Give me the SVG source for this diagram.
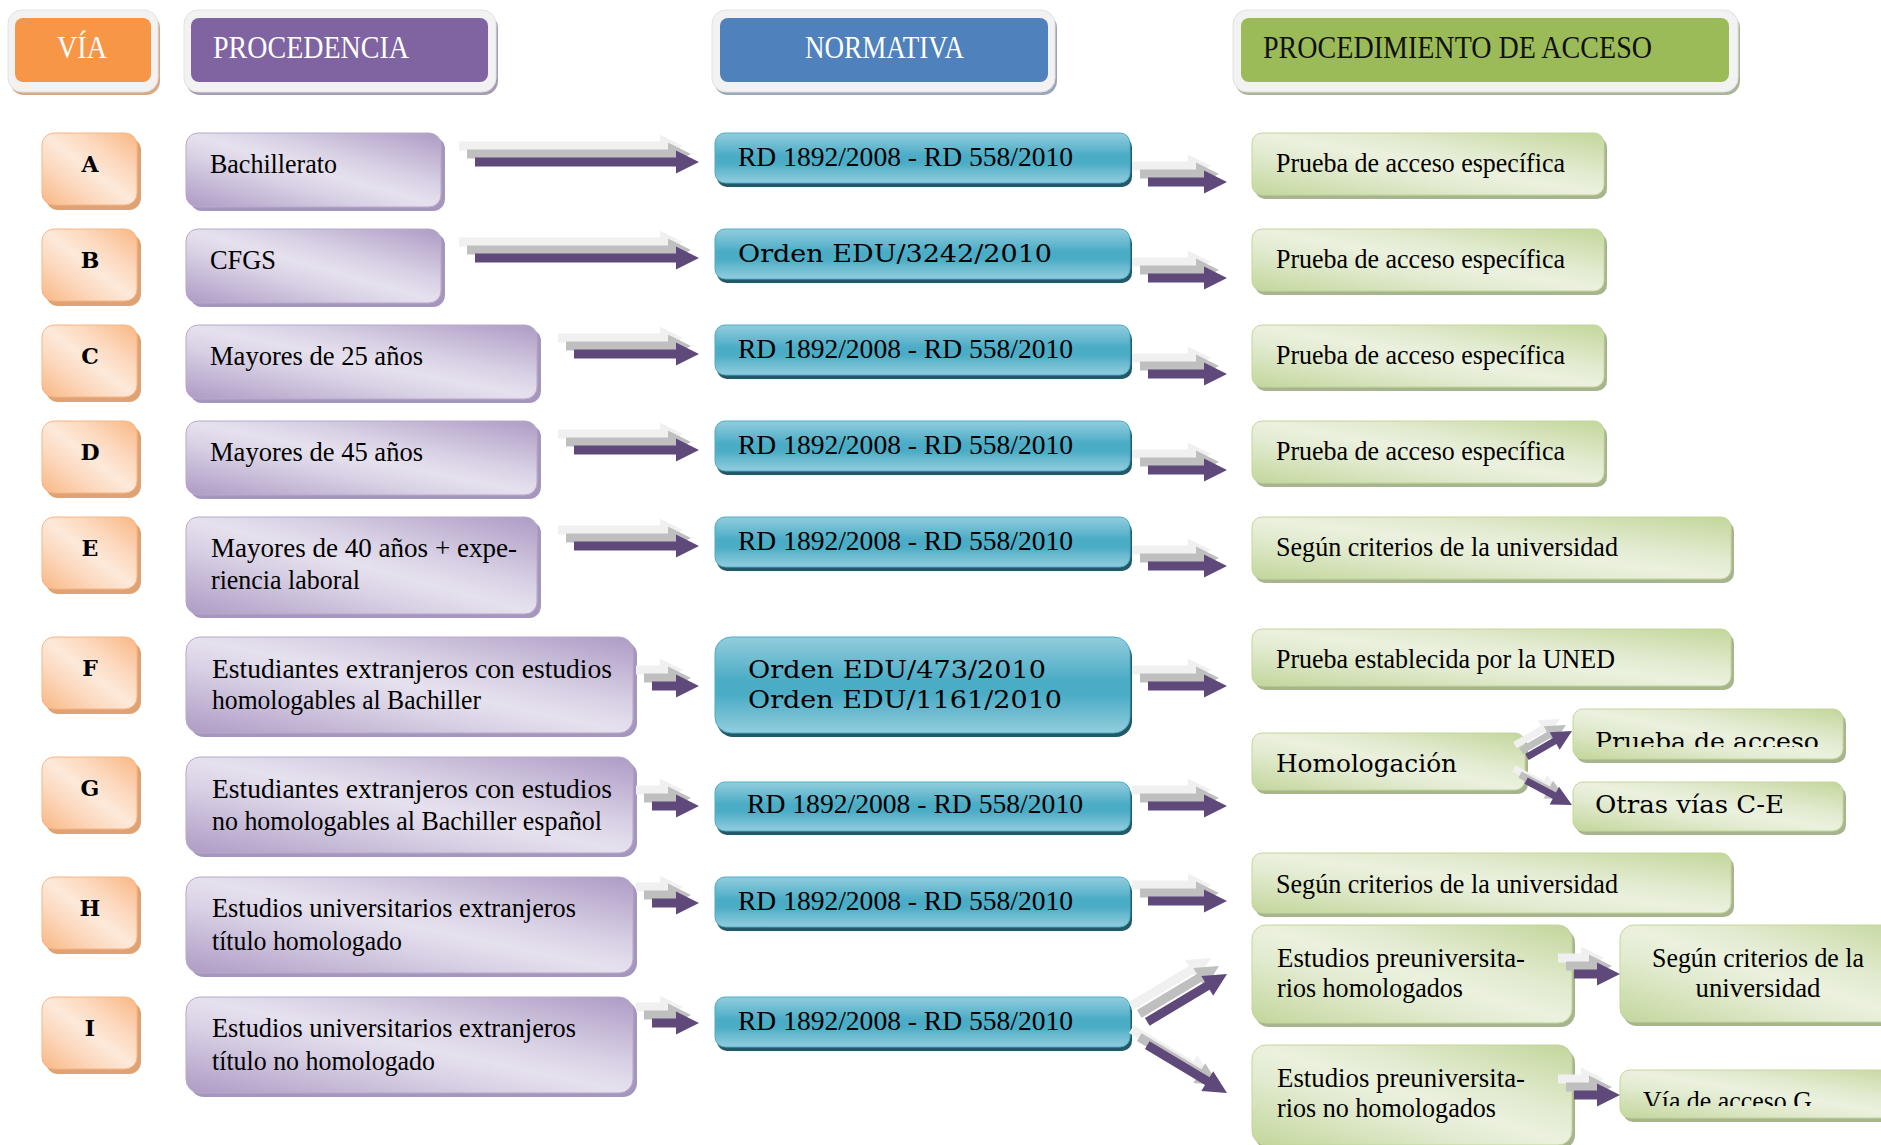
<svg xmlns="http://www.w3.org/2000/svg" width="1881" height="1145" viewBox="0 0 1881 1145">
<style>
.t{font-family:"Liberation Serif",serif;font-size:27px;fill:#000}
.c{font-family:"DejaVu Serif",serif;font-size:25px;fill:#000}
.h{font-family:"Liberation Serif",serif;font-size:31px}
.v{font-family:"DejaVu Serif",serif;font-weight:bold;font-size:22px;text-anchor:middle;fill:#000}
.frm{fill:#f2f2f2;stroke:#e2e2e2;stroke-width:1}
.viaS{fill:#dea274}.via{fill:url(#gVia);stroke:#f6b686;stroke-width:1}
.proS{fill:#a596bd}.pro{fill:url(#gPur);stroke:#b8a9cb;stroke-width:1}
.norS{fill:#215968}.nor{fill:url(#gBlu);stroke:#4bacc6;stroke-width:1}
.accS{fill:#a7b58e}.acc{fill:url(#gGrn);stroke:#c3d69b;stroke-width:1}
</style>
<defs>
<linearGradient id="gVia" x1="0" y1="1" x2="1" y2="0">
<stop offset="0" stop-color="#f9b784"/><stop offset="0.3" stop-color="#fcd8bd"/><stop offset="0.5" stop-color="#fde9da"/><stop offset="0.7" stop-color="#fcd8bd"/><stop offset="1" stop-color="#f9b784"/>
</linearGradient>
<linearGradient id="gPur" x1="0" y1="1" x2="1" y2="0">
<stop offset="0" stop-color="#ad9bc5"/><stop offset="0.35" stop-color="#d8d0e4"/><stop offset="0.5" stop-color="#e6e1ee"/><stop offset="0.65" stop-color="#d8d0e4"/><stop offset="1" stop-color="#ad9bc5"/>
</linearGradient>
<linearGradient id="gGrn" x1="0" y1="1" x2="1" y2="0">
<stop offset="0" stop-color="#c3d69b"/><stop offset="0.35" stop-color="#e2ebd0"/><stop offset="0.5" stop-color="#ebf1de"/><stop offset="0.65" stop-color="#e2ebd0"/><stop offset="1" stop-color="#c3d69b"/>
</linearGradient>
<linearGradient id="gBlu" x1="0" y1="0" x2="0" y2="1">
<stop offset="0" stop-color="#93cddd"/><stop offset="0.45" stop-color="#4bacc6"/><stop offset="0.6" stop-color="#4bacc6"/><stop offset="1" stop-color="#93cddd"/>
</linearGradient>
<clipPath id="clipPrueba"><rect x="1573" y="700" width="280" height="47"/></clipPath>
<clipPath id="clipViaG"><rect x="1620" y="1060" width="270" height="46"/></clipPath>
<polygon id="p224" points="-224,-4.5 -23,-4.5 -23,-11.5 0,0 -23,11.5 -23,4.5 -224,4.5"/>
<polygon id="p125" points="-125,-4.5 -23,-4.5 -23,-11.5 0,0 -23,11.5 -23,4.5 -125,4.5"/>
<polygon id="p79" points="-79,-4.5 -23,-4.5 -23,-11.5 0,0 -23,11.5 -23,4.5 -79,4.5"/>
<polygon id="p47" points="-47,-4.5 -23,-4.5 -23,-11.5 0,0 -23,11.5 -23,4.5 -47,4.5"/>
<polygon id="p46" points="-46,-4.5 -23,-4.5 -23,-11.5 0,0 -23,11.5 -23,4.5 -46,4.5"/>
<polygon id="p93" points="-93,-4.5 -23,-4.5 -23,-11.5 0,0 -23,11.5 -23,4.5 -93,4.5"/>
<polygon id="p52" points="-52,-3.5 -20,-3.5 -20,-10 0,0 -20,10 -20,3.5 -52,3.5"/>
<g id="a224"><use href="#p224" x="-16" y="-16" fill="#f0f0f0"/><use href="#p224" x="-8" y="-8" fill="#bfbfbf"/><use href="#p224" fill="#5f497a"/></g>
<g id="a125"><use href="#p125" x="-16" y="-16" fill="#f0f0f0"/><use href="#p125" x="-8" y="-8" fill="#bfbfbf"/><use href="#p125" fill="#5f497a"/></g>
<g id="a79"><use href="#p79" x="-16" y="-16" fill="#f0f0f0"/><use href="#p79" x="-8" y="-8" fill="#bfbfbf"/><use href="#p79" fill="#5f497a"/></g>
<g id="a47"><use href="#p47" x="-16" y="-16" fill="#f0f0f0"/><use href="#p47" x="-8" y="-8" fill="#bfbfbf"/><use href="#p47" fill="#5f497a"/></g>
<g id="a46"><use href="#p46" x="-16" y="-16" fill="#f0f0f0"/><use href="#p46" x="-8" y="-8" fill="#bfbfbf"/><use href="#p46" fill="#5f497a"/></g>
</defs>
<rect width="1881" height="1145" fill="#ffffff"/>

<!-- headers -->
<g id="hdr-via">
<rect x="10" y="14" width="150" height="81" rx="14" fill="#d9a884"/>
<rect class="frm" x="8" y="10" width="150" height="82" rx="14"/>
<rect x="15" y="18" width="136" height="64" rx="8" fill="#f79646"/>
<text class="h" x="57" y="58" fill="#ffffff" textLength="50" lengthAdjust="spacingAndGlyphs">VÍA</text>
</g>
<g id="hdr-procedencia">
<rect x="186" y="14" width="312" height="81" rx="14" fill="#a59db3"/>
<rect class="frm" x="184" y="10" width="312" height="82" rx="14"/>
<rect x="191" y="18" width="297" height="64" rx="8" fill="#8064a2"/>
<text class="h" x="213" y="58" fill="#ffffff" textLength="196" lengthAdjust="spacingAndGlyphs">PROCEDENCIA</text>
</g>
<g id="hdr-normativa">
<rect x="714" y="14" width="343" height="81" rx="14" fill="#9aa6bb"/>
<rect class="frm" x="712" y="10" width="343" height="82" rx="14"/>
<rect x="720" y="18" width="328" height="64" rx="8" fill="#4f81bd"/>
<text class="h" x="805" y="58" fill="#ffffff" textLength="159" lengthAdjust="spacingAndGlyphs">NORMATIVA</text>
</g>
<g id="hdr-acceso">
<rect x="1235" y="14" width="505" height="81" rx="14" fill="#aab596"/>
<rect class="frm" x="1233" y="10" width="505" height="82" rx="14"/>
<rect x="1241" y="18" width="488" height="64" rx="8" fill="#9bbb59"/>
<text class="h" x="1263" y="58" fill="#111111" textLength="389" lengthAdjust="spacingAndGlyphs">PROCEDIMIENTO DE ACCESO</text>
</g>

<!-- via boxes -->
<g id="via-A"><rect class="viaS" x="46" y="138" width="95" height="72" rx="12"/><rect class="via" x="42" y="133" width="95" height="72" rx="12"/><text class="v" x="90" y="172">A</text></g>
<g id="via-B"><rect class="viaS" x="46" y="234" width="95" height="72" rx="12"/><rect class="via" x="42" y="229" width="95" height="72" rx="12"/><text class="v" x="90" y="268">B</text></g>
<g id="via-C"><rect class="viaS" x="46" y="330" width="95" height="72" rx="12"/><rect class="via" x="42" y="325" width="95" height="72" rx="12"/><text class="v" x="90" y="364">C</text></g>
<g id="via-D"><rect class="viaS" x="46" y="426" width="95" height="72" rx="12"/><rect class="via" x="42" y="421" width="95" height="72" rx="12"/><text class="v" x="90" y="460">D</text></g>
<g id="via-E"><rect class="viaS" x="46" y="522" width="95" height="72" rx="12"/><rect class="via" x="42" y="517" width="95" height="72" rx="12"/><text class="v" x="90" y="556">E</text></g>
<g id="via-F"><rect class="viaS" x="46" y="642" width="95" height="72" rx="12"/><rect class="via" x="42" y="637" width="95" height="72" rx="12"/><text class="v" x="90" y="676">F</text></g>
<g id="via-G"><rect class="viaS" x="46" y="762" width="95" height="72" rx="12"/><rect class="via" x="42" y="757" width="95" height="72" rx="12"/><text class="v" x="90" y="796">G</text></g>
<g id="via-H"><rect class="viaS" x="46" y="882" width="95" height="72" rx="12"/><rect class="via" x="42" y="877" width="95" height="72" rx="12"/><text class="v" x="90" y="916">H</text></g>
<g id="via-I"><rect class="viaS" x="46" y="1002" width="95" height="72" rx="12"/><rect class="via" x="42" y="997" width="95" height="72" rx="12"/><text class="v" x="90" y="1036">I</text></g>

<!-- procedencia -->
<g id="proc-A"><rect class="proS" x="190" y="137" width="255" height="74" rx="12"/><rect class="pro" x="186" y="133" width="255" height="74" rx="12"/><text class="t" x="210" y="173" textLength="127" lengthAdjust="spacingAndGlyphs">Bachillerato</text></g>
<g id="proc-B"><rect class="proS" x="190" y="233" width="255" height="74" rx="12"/><rect class="pro" x="186" y="229" width="255" height="74" rx="12"/><text class="t" x="210" y="269" textLength="66" lengthAdjust="spacingAndGlyphs">CFGS</text></g>
<g id="proc-C"><rect class="proS" x="190" y="329" width="351" height="74" rx="12"/><rect class="pro" x="186" y="325" width="351" height="74" rx="12"/><text class="t" x="210" y="365" textLength="213" lengthAdjust="spacingAndGlyphs">Mayores de 25 años</text></g>
<g id="proc-D"><rect class="proS" x="190" y="425" width="351" height="74" rx="12"/><rect class="pro" x="186" y="421" width="351" height="74" rx="12"/><text class="t" x="210" y="461" textLength="213" lengthAdjust="spacingAndGlyphs">Mayores de 45 años</text></g>
<g id="proc-E"><rect class="proS" x="190" y="521" width="351" height="97" rx="12"/><rect class="pro" x="186" y="517" width="351" height="97" rx="12"/><text class="t" x="211" y="557" textLength="306" lengthAdjust="spacingAndGlyphs">Mayores de 40 años + expe-</text><text class="t" x="211" y="589" textLength="149" lengthAdjust="spacingAndGlyphs">riencia laboral</text></g>
<g id="proc-F"><rect class="proS" x="190" y="641" width="447" height="96" rx="14"/><rect class="pro" x="186" y="637" width="447" height="96" rx="14"/><text class="t" x="212" y="678" textLength="400" lengthAdjust="spacingAndGlyphs">Estudiantes extranjeros con estudios</text><text class="t" x="212" y="709" textLength="269" lengthAdjust="spacingAndGlyphs">homologables al Bachiller</text></g>
<g id="proc-G"><rect class="proS" x="190" y="761" width="447" height="96" rx="14"/><rect class="pro" x="186" y="757" width="447" height="96" rx="14"/><text class="t" x="212" y="798" textLength="400" lengthAdjust="spacingAndGlyphs">Estudiantes extranjeros con estudios</text><text class="t" x="212" y="830" textLength="390" lengthAdjust="spacingAndGlyphs">no homologables al Bachiller español</text></g>
<g id="proc-H"><rect class="proS" x="190" y="881" width="447" height="96" rx="14"/><rect class="pro" x="186" y="877" width="447" height="96" rx="14"/><text class="t" x="212" y="917" textLength="364" lengthAdjust="spacingAndGlyphs">Estudios universitarios extranjeros</text><text class="t" x="212" y="950" textLength="190" lengthAdjust="spacingAndGlyphs">título homologado</text></g>
<g id="proc-I"><rect class="proS" x="190" y="1001" width="447" height="96" rx="14"/><rect class="pro" x="186" y="997" width="447" height="96" rx="14"/><text class="t" x="212" y="1037" textLength="364" lengthAdjust="spacingAndGlyphs">Estudios universitarios extranjeros</text><text class="t" x="212" y="1070" textLength="223" lengthAdjust="spacingAndGlyphs">título no homologado</text></g>

<!-- normativa -->
<g id="norm-A"><rect class="norS" x="717" y="137" width="415" height="50" rx="10"/><rect class="nor" x="715" y="133" width="415" height="50" rx="10"/><text class="t" x="738" y="166" textLength="335" lengthAdjust="spacingAndGlyphs">RD 1892/2008 - RD 558/2010</text></g>
<g id="norm-B"><rect class="norS" x="717" y="233" width="415" height="50" rx="10"/><rect class="nor" x="715" y="229" width="415" height="50" rx="10"/><text class="c" x="738" y="262" textLength="314" lengthAdjust="spacingAndGlyphs">Orden EDU/3242/2010</text></g>
<g id="norm-C"><rect class="norS" x="717" y="329" width="415" height="50" rx="10"/><rect class="nor" x="715" y="325" width="415" height="50" rx="10"/><text class="t" x="738" y="358" textLength="335" lengthAdjust="spacingAndGlyphs">RD 1892/2008 - RD 558/2010</text></g>
<g id="norm-D"><rect class="norS" x="717" y="425" width="415" height="50" rx="10"/><rect class="nor" x="715" y="421" width="415" height="50" rx="10"/><text class="t" x="738" y="454" textLength="335" lengthAdjust="spacingAndGlyphs">RD 1892/2008 - RD 558/2010</text></g>
<g id="norm-E"><rect class="norS" x="717" y="521" width="415" height="50" rx="10"/><rect class="nor" x="715" y="517" width="415" height="50" rx="10"/><text class="t" x="738" y="550" textLength="335" lengthAdjust="spacingAndGlyphs">RD 1892/2008 - RD 558/2010</text></g>
<g id="norm-F"><rect class="norS" x="717" y="641" width="415" height="96" rx="16"/><rect class="nor" x="715" y="637" width="415" height="96" rx="16"/><text class="c" x="748" y="678" textLength="298" lengthAdjust="spacingAndGlyphs">Orden EDU/473/2010</text><text class="c" x="748" y="708" textLength="314" lengthAdjust="spacingAndGlyphs">Orden EDU/1161/2010</text></g>
<g id="norm-G"><rect class="norS" x="717" y="786" width="415" height="49" rx="10"/><rect class="nor" x="715" y="782" width="415" height="49" rx="10"/><text class="t" x="747" y="813" textLength="336" lengthAdjust="spacingAndGlyphs">RD 1892/2008 - RD 558/2010</text></g>
<g id="norm-H"><rect class="norS" x="717" y="881" width="415" height="50" rx="10"/><rect class="nor" x="715" y="877" width="415" height="50" rx="10"/><text class="t" x="738" y="910" textLength="335" lengthAdjust="spacingAndGlyphs">RD 1892/2008 - RD 558/2010</text></g>
<g id="norm-I"><rect class="norS" x="717" y="1001" width="415" height="50" rx="10"/><rect class="nor" x="715" y="997" width="415" height="50" rx="10"/><text class="t" x="738" y="1030" textLength="335" lengthAdjust="spacingAndGlyphs">RD 1892/2008 - RD 558/2010</text></g>

<!-- procedimiento de acceso -->
<g id="acc-A"><rect class="accS" x="1255" y="137" width="352" height="62" rx="10"/><rect class="acc" x="1252" y="133" width="352" height="62" rx="10"/><text class="t" x="1276" y="172" textLength="289" lengthAdjust="spacingAndGlyphs">Prueba de acceso específica</text></g>
<g id="acc-B"><rect class="accS" x="1255" y="233" width="352" height="62" rx="10"/><rect class="acc" x="1252" y="229" width="352" height="62" rx="10"/><text class="t" x="1276" y="268" textLength="289" lengthAdjust="spacingAndGlyphs">Prueba de acceso específica</text></g>
<g id="acc-C"><rect class="accS" x="1255" y="329" width="352" height="62" rx="10"/><rect class="acc" x="1252" y="325" width="352" height="62" rx="10"/><text class="t" x="1276" y="364" textLength="289" lengthAdjust="spacingAndGlyphs">Prueba de acceso específica</text></g>
<g id="acc-D"><rect class="accS" x="1255" y="425" width="352" height="62" rx="10"/><rect class="acc" x="1252" y="421" width="352" height="62" rx="10"/><text class="t" x="1276" y="460" textLength="289" lengthAdjust="spacingAndGlyphs">Prueba de acceso específica</text></g>
<g id="acc-E"><rect class="accS" x="1255" y="521" width="479" height="62" rx="10"/><rect class="acc" x="1252" y="517" width="479" height="62" rx="10"/><text class="t" x="1276" y="556" textLength="342" lengthAdjust="spacingAndGlyphs">Según criterios de la universidad</text></g>
<g id="acc-F"><rect class="accS" x="1255" y="633" width="479" height="57" rx="10"/><rect class="acc" x="1252" y="629" width="479" height="57" rx="10"/><text class="t" x="1276" y="668" textLength="339" lengthAdjust="spacingAndGlyphs">Prueba establecida por la UNED</text></g>
<g id="acc-G-homologacion"><rect class="accS" x="1255" y="737" width="273" height="57" rx="10"/><rect class="acc" x="1252" y="733" width="273" height="57" rx="10"/><text class="c" x="1276" y="772" textLength="181" lengthAdjust="spacingAndGlyphs">Homologación</text></g>
<g id="acc-G-prueba"><rect class="accS" x="1576" y="713" width="270" height="50" rx="10"/><rect class="acc" x="1573" y="709" width="270" height="50" rx="10"/><text class="c" x="1595" y="750" textLength="224" lengthAdjust="spacingAndGlyphs" clip-path="url(#clipPrueba)">Prueba de acceso</text></g>
<g id="acc-G-otras"><rect class="accS" x="1576" y="786" width="270" height="49" rx="10"/><rect class="acc" x="1573" y="782" width="270" height="49" rx="10"/><text class="c" x="1595" y="813" textLength="189" lengthAdjust="spacingAndGlyphs">Otras vías C-E</text></g>
<g id="acc-H"><rect class="accS" x="1255" y="857" width="479" height="60" rx="10"/><rect class="acc" x="1252" y="853" width="479" height="60" rx="10"/><text class="t" x="1276" y="893" textLength="342" lengthAdjust="spacingAndGlyphs">Según criterios de la universidad</text></g>
<g id="acc-I-homologados"><rect class="accS" x="1255" y="929" width="320" height="98" rx="14"/><rect class="acc" x="1252" y="925" width="320" height="98" rx="14"/><text class="t" x="1277" y="967" textLength="248" lengthAdjust="spacingAndGlyphs">Estudios preuniversita-</text><text class="t" x="1277" y="997" textLength="186" lengthAdjust="spacingAndGlyphs">rios homologados</text></g>
<g id="acc-I-criterios"><rect class="accS" x="1623" y="929" width="300" height="97" rx="14"/><rect class="acc" x="1620" y="925" width="300" height="97" rx="14"/><text class="t" x="1758" y="967" text-anchor="middle" textLength="212" lengthAdjust="spacingAndGlyphs">Según criterios de la</text><text class="t" x="1758" y="997" text-anchor="middle" textLength="125" lengthAdjust="spacingAndGlyphs">universidad</text></g>
<g id="acc-I-nohomologados"><rect class="accS" x="1255" y="1049" width="320" height="100" rx="14"/><rect class="acc" x="1252" y="1045" width="320" height="100" rx="14"/><text class="t" x="1277" y="1087" textLength="248" lengthAdjust="spacingAndGlyphs">Estudios preuniversita-</text><text class="t" x="1277" y="1117" textLength="219" lengthAdjust="spacingAndGlyphs">rios no homologados</text></g>
<g id="acc-I-viaG"><rect class="accS" x="1623" y="1074" width="300" height="48" rx="10"/><rect class="acc" x="1620" y="1070" width="300" height="48" rx="10"/><text class="t" x="1643" y="1110" textLength="169" lengthAdjust="spacingAndGlyphs" clip-path="url(#clipViaG)">Vía de acceso G</text></g>

<!-- connectors -->
<g id="connectors">
<use href="#a224" transform="translate(699,162)"/>
<use href="#a224" transform="translate(699,258)"/>
<use href="#a125" transform="translate(699,354)"/>
<use href="#a125" transform="translate(699,450)"/>
<use href="#a125" transform="translate(699,546)"/>
<use href="#a47" transform="translate(699,686)"/>
<use href="#a47" transform="translate(699,806)"/>
<use href="#a47" transform="translate(699,903)"/>
<use href="#a47" transform="translate(699,1023)"/>
<use href="#a79" transform="translate(1227,182)"/>
<use href="#a79" transform="translate(1227,278)"/>
<use href="#a79" transform="translate(1227,374)"/>
<use href="#a79" transform="translate(1227,470)"/>
<use href="#a79" transform="translate(1227,566)"/>
<use href="#a79" transform="translate(1227,686)"/>
<use href="#a79" transform="translate(1227,806)"/>
<use href="#a79" transform="translate(1227,901)"/>
<use href="#a46" transform="translate(1620,974)"/>
<use href="#a46" transform="translate(1620,1095)"/>
<g id="diag-up">
<use href="#p93" transform="translate(1211,958) rotate(-31)" fill="#f0f0f0"/>
<use href="#p93" transform="translate(1219,966) rotate(-31)" fill="#bfbfbf"/>
<use href="#p93" transform="translate(1227,974) rotate(-31)" fill="#5f497a"/>
</g>
<g id="diag-down">
<use href="#p93" transform="translate(1211,1077) rotate(31)" fill="#f0f0f0"/>
<use href="#p93" transform="translate(1219,1085) rotate(31)" fill="#bfbfbf"/>
<use href="#p93" transform="translate(1227,1093) rotate(31)" fill="#5f497a"/>
</g>
<g id="homol-up">
<use href="#p52" transform="translate(1560,719) rotate(-30)" fill="#f0f0f0"/>
<use href="#p52" transform="translate(1566,725) rotate(-30)" fill="#bfbfbf"/>
<use href="#p52" transform="translate(1572,731) rotate(-30)" fill="#5f497a"/>
</g>
<g id="homol-down">
<use href="#p52" transform="translate(1560,793) rotate(28)" fill="#f0f0f0"/>
<use href="#p52" transform="translate(1566,799) rotate(28)" fill="#bfbfbf"/>
<use href="#p52" transform="translate(1572,805) rotate(28)" fill="#5f497a"/>
</g>
</g>
</svg>
